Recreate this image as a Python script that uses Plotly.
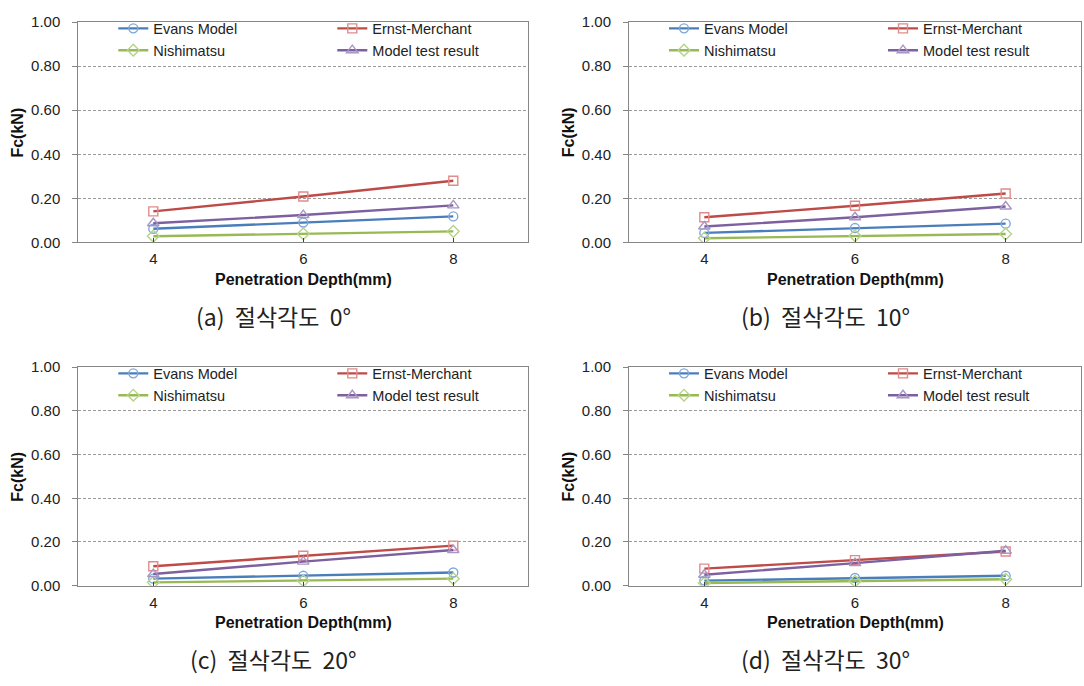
import plotly.graph_objects as go

# ---- data ----
depths = [4, 6, 8]
depth_labels = ["4", "6", "8"]
series_names = ["Evans Model", "Ernst-Merchant", "Nishimatsu", "Model test result"]
captions = ["(a)\u00a0\u00a0절삭각도\u00a0\u00a00°", "(b)\u00a0\u00a0절삭각도\u00a0\u00a010°",
            "(c)\u00a0\u00a0절삭각도\u00a0\u00a020°", "(d)\u00a0\u00a0절삭각도\u00a0\u00a030°"]

# panel (a) cutting angle 0
evans_a = [0.062, 0.090, 0.118]
ernst_a = [0.141, 0.208, 0.280]
nishi_a = [0.028, 0.039, 0.050]
test_a = [0.087, 0.124, 0.168]
# panel (b) cutting angle 10
evans_b = [0.043, 0.065, 0.085]
ernst_b = [0.114, 0.166, 0.222]
nishi_b = [0.019, 0.030, 0.038]
test_b = [0.072, 0.114, 0.163]
# panel (c) cutting angle 20
evans_c = [0.032, 0.045, 0.060]
ernst_c = [0.089, 0.137, 0.183]
nishi_c = [0.015, 0.022, 0.032]
test_c = [0.053, 0.110, 0.163]
# panel (d) cutting angle 30
evans_d = [0.023, 0.035, 0.045]
ernst_d = [0.078, 0.117, 0.156]
nishi_d = [0.012, 0.020, 0.029]
test_d = [0.050, 0.103, 0.160]

y_ticks = [0, 0.2, 0.4, 0.6, 0.8, 1.0]

panels = [
    [evans_a, ernst_a, nishi_a, test_a],
    [evans_b, ernst_b, nishi_b, test_b],
    [evans_c, ernst_c, nishi_c, test_c],
    [evans_d, ernst_d, nishi_d, test_d],
]

# ---- styles ----
W, H = 1084, 686
line_cols = ["#4A7EBB", "#BE4B48", "#98B954", "#7D60A0"]
mark_cols = ["#7FA8DA", "#E08C8A", "#B5D38A", "#A896C6"]
symbols = ["circle-open", "square-open", "diamond-open", "triangle-up-open"]
msizes = [9, 9, 9, 10]
LAT = "Liberation Sans, Arial, sans-serif"
KR = "Noto Sans CJK KR, sans-serif"

# pixel boxes of the plot areas: (left, right, top, bottom)
boxes = [(78.3, 528.3, 13.5, 239.3), (629, 1081, 13.5, 239.3),
         (78.3, 528.3, 367.3, 591.3), (629, 1081, 367.3, 591.3)]

fig = go.Figure()
layout = dict(width=W, height=H, margin=dict(l=0, r=0, t=0, b=0),
              paper_bgcolor="white", plot_bgcolor="white", showlegend=True)
annotations = []

for i, (vals, box) in enumerate(zip(panels, boxes)):
    l, r, t, b = box
    xa = "xaxis" if i == 0 else f"xaxis{i+1}"
    ya = "yaxis" if i == 0 else f"yaxis{i+1}"
    xref = "x" if i == 0 else f"x{i+1}"
    yref = "y" if i == 0 else f"y{i+1}"
    leg1 = "legend" if i == 0 else f"legend{2*i+1}"
    leg2 = f"legend{2*i+2}"
    order = [0, 2, 1, 3]  # Evans, Nishimatsu -> col1 ; Ernst, Model -> col2
    for k in order:
        fig.add_trace(go.Scatter(
            x=depths, y=vals[k], name=series_names[k], mode="lines+markers",
            line=dict(color=line_cols[k], width=2.4),
            marker=dict(symbol=symbols[k], size=msizes[k], color=mark_cols[k],
                        line=dict(width=1.4, color=mark_cols[k])),
            xaxis=xref, yaxis=yref,
            legend=leg1 if k in (0, 2) else leg2,
        ))
    layout[xa] = dict(domain=[l / W, r / W], anchor=yref, range=[3, 9],
                      tickvals=depths, ticktext=depth_labels,
                      showline=True, linecolor="#868686", linewidth=1, mirror=True,
                      ticks="inside", ticklen=4, tickcolor="#404040",
                      showgrid=False, zeroline=False,
                      tickfont=dict(family=LAT, size=15, color="#222"),
                      ticklabelstandoff=3)
    layout[ya] = dict(domain=[1 - b / H, 1 - t / H], anchor=xref, range=[0, 1.0],
                      tickvals=y_ticks, tickformat=".2f",
                      showline=True, linecolor="#868686", linewidth=1, mirror=True,
                      ticks="outside", ticklen=5, tickcolor="#868686",
                      showgrid=True, gridcolor="#9A9A9A", griddash="3px,2px", gridwidth=1,
                      zeroline=False,
                      tickfont=dict(family=LAT, size=15, color="#222"),
                      ticklabelstandoff=9)
    # legends
    layout[leg1] = dict(x=(l + 35) / W, y=1 - (t - 10) / H, xanchor="left", yanchor="top",
                        bgcolor="rgba(0,0,0,0)", font=dict(family=LAT, size=14.5, color="#222"),
                        orientation="v", tracegroupgap=0, itemwidth=30)
    layout[leg2] = dict(x=(l + 254) / W, y=1 - (t - 10) / H, xanchor="left", yanchor="top",
                        bgcolor="rgba(0,0,0,0)", font=dict(family=LAT, size=14.5, color="#222"),
                        orientation="v", tracegroupgap=0, itemwidth=30)
    # axis titles and caption
    cx = (l + r) / 2
    annotations.append(dict(text="<b>Penetration Depth(mm)</b>", xref="paper", yref="paper",
                            x=cx / W, y=1 - (b + 38) / H, showarrow=False,
                            xanchor="center", yanchor="middle",
                            font=dict(family=LAT, size=16, color="#111")))
    annotations.append(dict(text="<b>Fc(kN)</b>", xref="paper", yref="paper",
                            x=(l - 61) / W, y=1 - ((t + b) / 2) / H, showarrow=False,
                            textangle=-90, xanchor="center", yanchor="middle",
                            font=dict(family=LAT, size=16, color="#111")))
    annotations.append(dict(text=captions[i], xref="paper", yref="paper",
                            x=(cx - 30) / W, y=1 - (b + 75) / H, showarrow=False,
                            xanchor="center", yanchor="middle",
                            font=dict(family=KR, size=23, color="#222")))

layout["annotations"] = annotations
fig.update_layout(**layout)
fig.write_html("out.html")
